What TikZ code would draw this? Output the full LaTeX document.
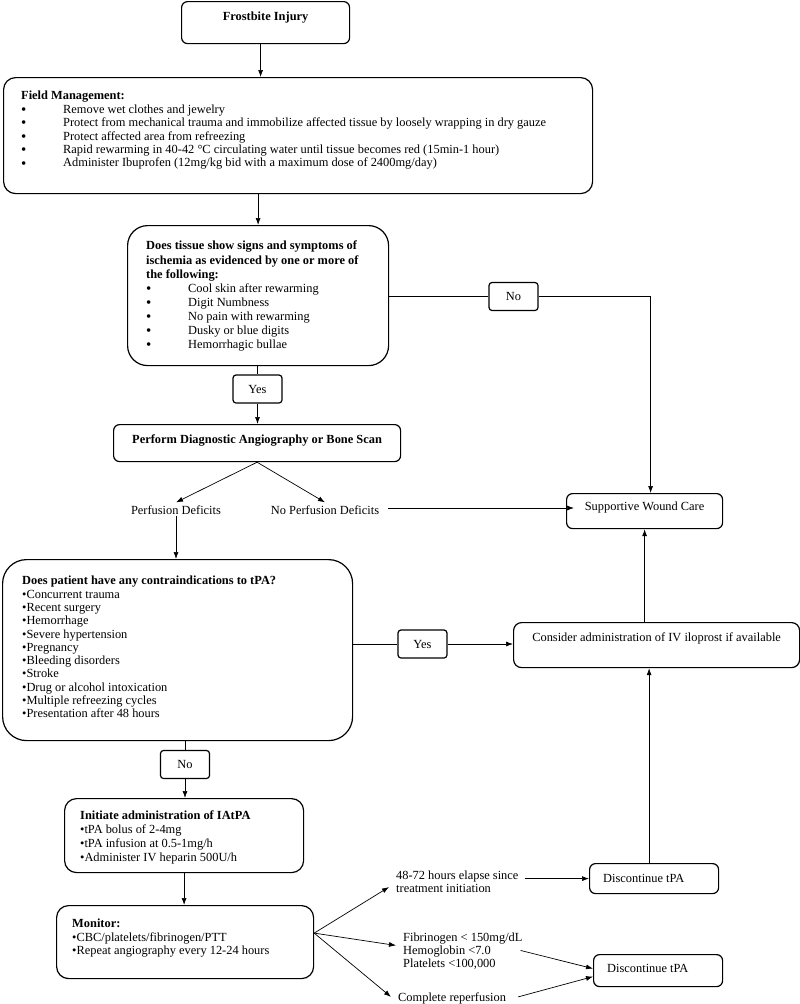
\documentclass[tikz,border=0pt]{standalone}
\usepackage{fontspec}
\setmainfont{Liberation Serif}
\usepackage{tikz}
\usetikzlibrary{arrows.meta,positioning,calc}
\newcommand{\itembul}{\makebox[42pt][l]{\raisebox{-1.2pt}{\fontsize{15}{13}\selectfont\textbullet}}}

\begin{document}
\begin{tikzpicture}[
    x=1pt, y=-1pt,
    font=\fontsize{12.4}{13.4}\selectfont,
    box/.style={draw, line width=1.2pt, rounded corners=6pt, anchor=north west, inner sep=0pt},
    tag/.style={draw, line width=1.2pt, rounded corners=3pt, minimum width=49pt, minimum height=28pt, inner sep=0pt},
    txt/.style={anchor=north west, inner sep=0pt, align=left},
    label/.style={inner sep=1pt},
    link/.style={line width=0.7pt},
    arrow/.style={->, >={Latex[length=7pt,width=5pt]}, line width=0.7pt}
]
    \useasboundingbox (0,0) rectangle (800,1004);

    % Boxes
    \node[box, minimum width=168pt, minimum height=42pt] (injury) at (181,1) {};
    \node[box, rounded corners=12pt, minimum width=589pt, minimum height=116pt] (field) at (3,77) {};
    \node[box, rounded corners=20pt, minimum width=261pt, minimum height=140pt] (ischemia) at (127,225) {};
    \node[box, minimum width=287pt, minimum height=37pt] (angio) at (113,424) {};
    \node[box, minimum width=156pt, minimum height=35pt] (wound) at (566,493) {};
    \node[box, rounded corners=24pt, minimum width=350pt, minimum height=181pt] (contra) at (2,559) {};
    \node[box, rounded corners=8pt, minimum width=286pt, minimum height=45pt] (consider) at (513,622) {};
    \node[box, rounded corners=12pt, minimum width=239pt, minimum height=74pt] (initiate) at (64,798) {};
    \node[box, rounded corners=12pt, minimum width=257pt, minimum height=73pt] (monitor) at (56,905) {};
    \node[box, minimum width=129pt, minimum height=30pt] (disc1) at (589,863) {};
    \node[box, minimum width=129pt, minimum height=32pt] (disc2) at (593,954) {};

    % Box texts
    \node[label, anchor=north, font=\fontsize{12.4}{13.4}\selectfont\bfseries] (injurytxt) at ([yshift=-10pt]injury.north) {Frostbite Injury};
    \node[txt] (fieldtxt) at (21,91) {\textbf{Field Management:}\\
        \itembul Remove wet clothes and jewelry\\
        \itembul Protect from mechanical trauma and immobilize affected tissue by loosely wrapping in dry gauze\\
        \itembul Protect affected area from refreezing\\
        \itembul Rapid rewarming in 40-42 °C circulating water until tissue becomes red (15min-1 hour)\\
        \itembul Administer Ibuprofen (12mg/kg bid with a maximum dose of 2400mg/day)};
    \node[txt, font=\fontsize{12.4}{14.1}\selectfont] (ischemiatxt) at (146,241) {\textbf{Does tissue show signs and symptoms of}\\
        \textbf{ischemia as evidenced by one or more of}\\
        \textbf{the following:}\\
        \itembul Cool skin after rewarming\\
        \itembul Digit Numbness\\
        \itembul No pain with rewarming\\
        \itembul Dusky or blue digits\\
        \itembul Hemorrhagic bullae};
    \node[label, anchor=north, font=\fontsize{12.4}{13.4}\selectfont\bfseries] (angiotxt) at ([yshift=-10pt]angio.north) {Perform Diagnostic Angiography or Bone Scan};
    \node[label, anchor=north] (woundtxt) at ([yshift=-8pt]wound.north) {Supportive Wound Care};
    \node[txt, font=\fontsize{12.4}{13.3}\selectfont] (contratxt) at (22,576) {\textbf{Does patient have any contraindications to tPA?}\\
        •Concurrent trauma\\
        •Recent surgery\\
        •Hemorrhage\\
        •Severe hypertension\\
        •Pregnancy\\
        •Bleeding disorders\\
        •Stroke\\
        •Drug or alcohol intoxication\\
        •Multiple refreezing cycles\\
        •Presentation after 48 hours};
    \node[label, anchor=north] (considertxt) at ([yshift=-10pt]consider.north) {Consider administration of IV iloprost if available};
    \node[txt, font=\fontsize{12.4}{13.7}\selectfont] (initiatetxt) at (80,811) {\textbf{Initiate administration of IAtPA}\\
        •tPA bolus of 2-4mg\\
        •tPA infusion at 0.5-1mg/h\\
        •Administer IV heparin 500U/h};
    \node[txt, font=\fontsize{12.4}{13.5}\selectfont] (monitortxt) at (72,919) {\textbf{Monitor:}\\
        •CBC/platelets/fibrinogen/PTT\\
        •Repeat angiography every 12-24 hours};
    \node[txt] (disc1txt) at (603,874) {Discontinue tPA};
    \node[txt] (disc2txt) at (607,964) {Discontinue tPA};

    % Answer tags
    \node[tag] (no1) at (513.5,296.5) {No};
    \node[tag] (yes1) at (257.5,389) {Yes};
    \node[tag] (yes2) at (422.5,644) {Yes};
    \node[tag] (no2) at (185,764.5) {No};

    % Free labels
    \node[label] (perf) at (176,510) {Perfusion Deficits};
    \node[label] (noperf) at (325,510) {No Perfusion Deficits};
    \node[txt, font=\fontsize{12.4}{13}\selectfont] (elapse) at (396,871) {48-72 hours elapse since\\treatment initiation};
    \node[txt, font=\fontsize{12.4}{13}\selectfont] (labs) at (403,933) {Fibrinogen < 150mg/dL\\Hemoglobin <7.0\\Platelets <100,000};
    \node[txt] (reperf) at (398,993) {Complete reperfusion};

    % Connections
    \draw[arrow] ([xshift=-5pt]injury.south) -- ([xshift=-5pt]injury.south |- field.north);
    \draw[arrow] (field.south -| ischemia.north) -- (ischemia.north);
    \draw[link] (ischemia.east |- no1.west) -- (no1.west);
    \draw[arrow] (no1.east) -| ([xshift=6pt]wound.north);
    \draw[link] (ischemia.south -| yes1.north) -- (yes1.north);
    \draw[arrow] (yes1.south) -- (yes1.south |- angio.north);
    \draw[arrow] (angio.south) -- ([yshift=2pt]perf.north);
    \draw[arrow] (angio.south) -- ([yshift=2pt]noperf.north);
    \draw[arrow] ([xshift=8pt,yshift=2pt]noperf.east) -- ([xshift=8pt,yshift=2pt]noperf.east -| wound.west);
    \draw[arrow] (perf.south) -- (perf.south |- contra.north);
    \draw[link] (contra.east |- yes2.west) -- (yes2.west);
    \draw[arrow] (yes2.east) -- (yes2.east -| consider.west);
    \draw[arrow] (consider.north -| wound.south) -- (wound.south);
    \draw[link] (contra.south -| no2.north) -- (no2.north);
    \draw[arrow] (no2.south) -- (no2.south |- initiate.north);
    \draw[arrow] (initiate.south) -- (initiate.south |- monitor.north);
    \coordinate (fork) at ([yshift=9pt]monitor.east);
    \draw[arrow] (fork) -- ([xshift=-7pt,yshift=-5pt]elapse.west);
    \draw[arrow] (fork) -- ([xshift=-7pt,yshift=6pt]labs.west);
    \draw[arrow] (fork) -- ([xshift=-7pt,yshift=2pt]reperf.west);
    \draw[arrow] ([xshift=6pt]elapse.east |- disc1.west) -- (disc1.west);
    \draw[arrow] ([xshift=-5pt]disc1.north) -- ([xshift=-5pt]disc1.north |- consider.south);
    \draw[arrow] ([xshift=-2pt,yshift=1pt]labs.east) -- ([yshift=2pt]disc2.west);
    \draw[arrow] ([xshift=12pt,yshift=2pt]reperf.east) -- ([yshift=-6pt]disc2.west);
\end{tikzpicture}
\end{document}
